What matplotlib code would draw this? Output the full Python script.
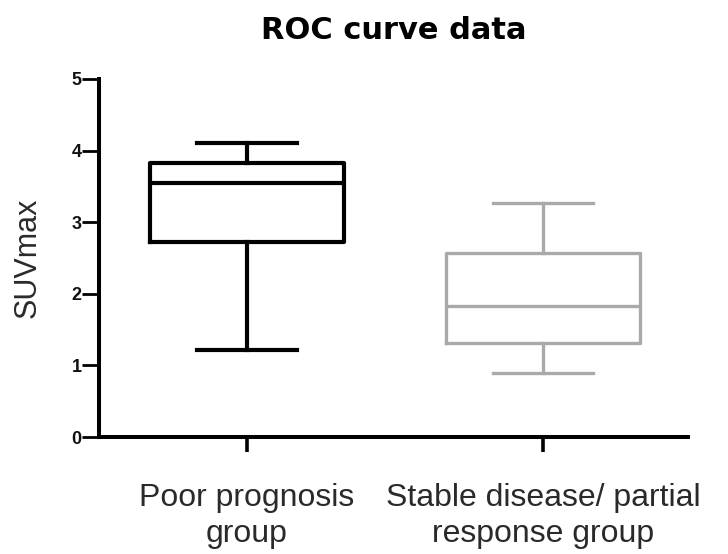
import matplotlib
matplotlib.use("Agg")
import matplotlib.pyplot as plt

categories = ["Poor prognosis\ngroup", "Stable disease/ partial\nresponse group"]
whislo = [1.22, 0.89]
q1 = [2.72, 1.31]
med = [3.55, 1.83]
q3 = [3.83, 2.57]
whishi = [4.11, 3.27]
colors = ["#000000", "#a9a9a9"]
yticks = [0, 1, 2, 3, 4, 5]

plt.rcParams['font.family'] = ['Liberation Sans', 'DejaVu Sans']
fig = plt.figure(figsize=(7.28, 5.54), dpi=100)
ax = fig.add_axes([99/728, 1-437/554, (688-99)/728, (437-79)/554])

for i in range(len(categories)):
    st = [dict(whislo=whislo[i], q1=q1[i], med=med[i], q3=q3[i], whishi=whishi[i], fliers=[])]
    c = colors[i]
    lw = 3.0 if i == 0 else 2.4
    ax.bxp(st, positions=[i + 1], widths=0.655, showfliers=False,
           boxprops=dict(color=c, linewidth=lw),
           medianprops=dict(color=c, linewidth=lw),
           whiskerprops=dict(color=c, linewidth=lw),
           capprops=dict(color=c, linewidth=lw),
           capwidths=0.34)

ax.set_xlim(0.5, 2.49)
ax.set_ylim(0, 5)
ax.set_yticks(yticks)
ax.set_yticklabels([str(t) for t in yticks], fontsize=13, fontweight='bold', color='#111111')
ax.set_xticks([1, 2])
ax.set_xticklabels(categories, fontsize=23, color='#2a2a2a', linespacing=1.28)
for s in ['top', 'right']:
    ax.spines[s].set_visible(False)
for s in ['left', 'bottom']:
    ax.spines[s].set_linewidth(2.9)
ax.tick_params(axis='y', length=12, width=2.0, pad=0.5)
ax.tick_params(axis='x', length=11, width=2.6, pad=22)
ax.set_ylabel("SUVmax", fontsize=22, color='#2a2a2a')
ax.yaxis.set_label_coords(-0.095, 0.5)
fig.text(0.541, 1 - 39/554, "ROC curve data", ha='center', va='baseline',
         fontsize=22, fontweight='bold', family='DejaVu Sans')

fig.savefig("out.png", dpi=100)
